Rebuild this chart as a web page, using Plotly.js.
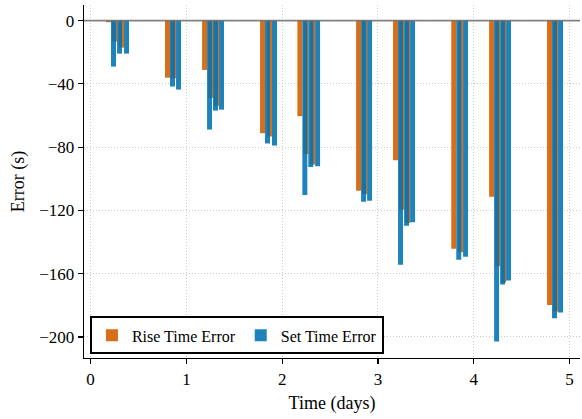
<!DOCTYPE html>
<html>
<head>
<meta charset="utf-8">
<script src="https://cdn.plot.ly/plotly-3.0.1.min.js"></script>
<style>
  html, body { margin: 0; padding: 0; background: #ffffff; }
  #chart { width: 582px; height: 419px; }
</style>
</head>
<body>
<div id="chart"></div>
<script>
// Event times (days) for each rise/set pair
const eventTimes = [0.213, 0.276, 0.349, 0.829, 0.892, 1.216, 1.278, 1.341, 1.821, 1.894,
                    2.211, 2.273, 2.344, 2.824, 2.887, 3.210, 3.273, 3.336, 3.818, 3.889,
                    4.213, 4.276, 4.338, 4.818, 4.881];
// Rise time error (s)
const riseErr = [-1.0, -13.3, -17.1, -36.1, -36.5, -31.2, -48.9, -53.9, -71.2, -73.3,
                 -60.4, -84.3, -91.0, -107.6, -109.8, -88.3, -119.6, -128.0, -144.3, -146.5,
                 -111.3, -155.3, -165.5, -179.8, -183.9];
// Set time error (s)
const setErr = [-29.1, -20.9, -20.9, -41.7, -43.6, -68.9, -56.9, -56.3, -77.7, -79.0,
                -110.3, -92.6, -92.1, -114.6, -113.9, -154.3, -129.7, -127.5, -151.2, -149.3,
                -202.9, -166.9, -164.3, -188.2, -184.5];
const seriesNames = ["Rise Time Error", "Set Time Error"];
const xTickVals = [0, 1, 2, 3, 4, 5];
const yTickVals = [0, -40, -80, -120, -160, -200];

const barW = 0.052;
const serif = "Liberation Serif, Times New Roman, serif";

const traces = [
  {
    type: "bar", name: seriesNames[0], x: eventTimes, y: riseErr,
    width: barW, offset: -barW,
    marker: { color: "rgba(213,94,0,0.9)", line: { width: 0 } }
  },
  {
    type: "bar", name: seriesNames[1], x: eventTimes, y: setErr,
    width: barW, offset: 0,
    marker: { color: "rgba(0,114,178,0.88)", line: { width: 0 } }
  }
];

const layout = {
  width: 582, height: 419,
  margin: { l: 84, r: 2, t: 5, b: 61, pad: 0 },
  paper_bgcolor: "#ffffff", plot_bgcolor: "#ffffff",
  barmode: "overlay",
  font: { family: serif, color: "#000000", size: 17 },
  showlegend: true,
  legend: {
    orientation: "h", x: 0.012, y: 0.01, xanchor: "left", yanchor: "bottom",
    bgcolor: "#ffffff", bordercolor: "#000000", borderwidth: 2,
    font: { family: serif, size: 16, color: "#000000" },
    traceorder: "normal"
  },
  xaxis: {
    range: [-0.069, 5.11],
    tickvals: xTickVals, ticktext: xTickVals.map(String),
    ticks: "outside", ticklen: 5, tickwidth: 1.2, tickcolor: "#000000",
    showline: true, linecolor: "#000000", linewidth: 1.3, mirror: false,
    showgrid: true, gridcolor: "#bdbdbd", gridwidth: 0.8, griddash: "1px,2px",
    zeroline: false,
    tickfont: { family: serif, size: 17, color: "#000000" },
    title: { text: "Time (days)", font: { family: serif, size: 18, color: "#000000" }, standoff: 8 }
  },
  yaxis: {
    range: [-213.3, 9.85],
    tickvals: yTickVals, ticktext: yTickVals.map(v => v === 0 ? "0" : "\u2212" + Math.abs(v)),
    ticks: "outside", ticklen: 5, tickwidth: 1.2, tickcolor: "#000000",
    showline: true, linecolor: "#000000", linewidth: 1.3, mirror: false,
    showgrid: true, gridcolor: "#bdbdbd", gridwidth: 0.8, griddash: "1px,2px",
    zeroline: false,
    tickfont: { family: serif, size: 17, color: "#000000" },
    title: { text: "Error (s)", font: { family: serif, size: 18, color: "#000000" }, standoff: 10 }
  },
  shapes: [
    {
      type: "line", xref: "paper", yref: "y", x0: 0, x1: 1, y0: 0, y1: 0,
      line: { color: "rgba(110,110,110,0.85)", width: 1.6 }, layer: "above"
    }
  ]
};

Plotly.newPlot("chart", traces, layout, { displayModeBar: false, staticPlot: true });
</script>
</body>
</html>
